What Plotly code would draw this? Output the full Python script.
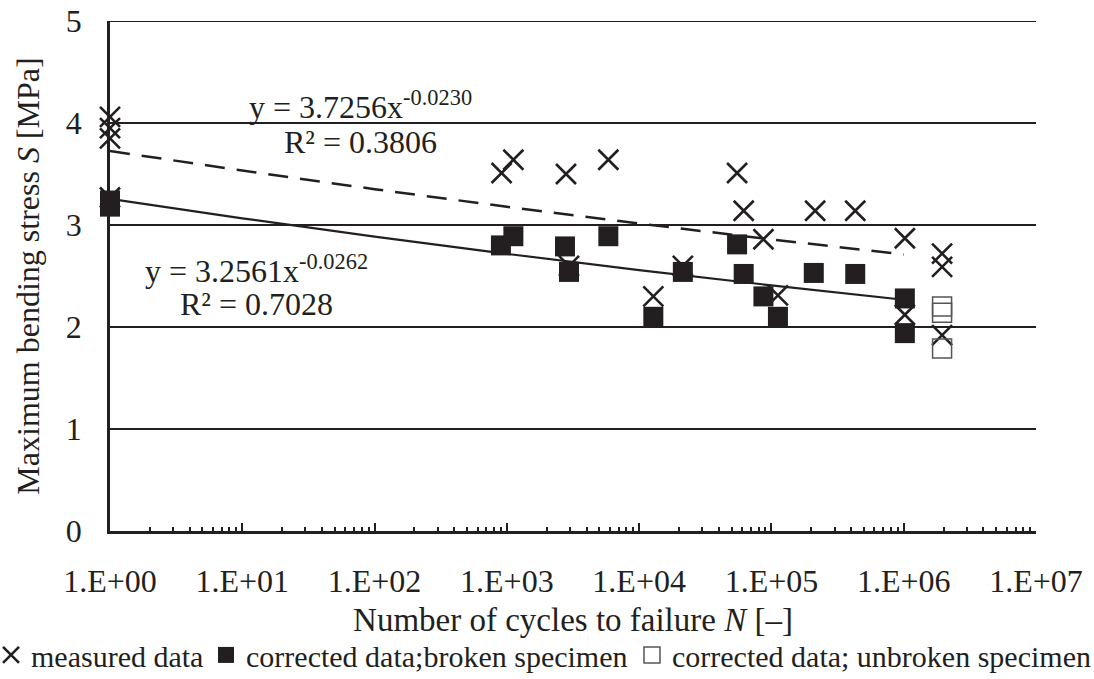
import numpy as np
import plotly.graph_objects as go

# ---------------- data ----------------
meas_N = [1, 1, 1, 1, 912, 1120, 2800, 2950, 5850, 12800, 21400, 55000, 61700,
          87000, 112000, 214000, 430000, 1.02e6, 1.02e6, 1.95e6, 1.95e6, 1.95e6]
meas_S = [4.06, 3.95, 3.85, 3.27, 3.51, 3.64, 3.50, 2.60, 3.64, 2.30, 2.60, 3.51, 3.14,
          2.86, 2.31, 3.14, 3.14, 2.87, 2.12, 2.72, 2.59, 1.92]

brok_N = [1, 1, 902, 1120, 2750, 2950, 5850, 12800, 21400, 55000, 61700, 87000,
          112000, 209000, 430000, 1.02e6, 1.02e6]
brok_S = [3.24, 3.18, 2.80, 2.89, 2.79, 2.54, 2.89, 2.10, 2.54, 2.81, 2.52, 2.30,
          2.10, 2.53, 2.52, 2.28, 1.94]

unbr_N = [1.95e6, 1.95e6, 1.95e6]
unbr_S = [2.20, 2.14, 1.79]

# power-law trendlines shown on the chart: S = a * N^b  (a, b, R²)
trend_meas = (3.7256, -0.0230, 0.3806)
trend_brok = (3.2561, -0.0262, 0.7028)
trend_N = [1, 10, 100, 1e3, 1e4, 1e5, 1e6]

xtick_vals = [1, 10, 100, 1e3, 1e4, 1e5, 1e6, 1e7]
xtick_text = ["1.E+00", "1.E+01", "1.E+02", "1.E+03", "1.E+04", "1.E+05", "1.E+06", "1.E+07"]
ytick_vals = [0, 1, 2, 3, 4, 5]
y_max = 5

FONT = "Liberation Serif, Times New Roman, serif"
INK = "#231f20"

fig = go.Figure()

def trend(params):
    a, b, _ = params
    return [a * n ** b for n in trend_N]

fig.add_trace(go.Scatter(x=trend_N, y=trend(trend_meas), mode="lines",
                         line=dict(color=INK, width=2.5, dash="20px,12px"),
                         showlegend=False, hoverinfo="skip"))
fig.add_trace(go.Scatter(x=trend_N, y=trend(trend_brok), mode="lines",
                         line=dict(color=INK, width=2.2),
                         showlegend=False, hoverinfo="skip"))

fig.add_trace(go.Scatter(x=meas_N, y=meas_S, mode="markers", name="measured data",
                         legend="legend", cliponaxis=False,
                         marker=dict(symbol="x-thin", size=20, color=INK,
                                     line=dict(color=INK, width=2.6))))
fig.add_trace(go.Scatter(x=brok_N, y=brok_S, mode="markers", cliponaxis=False,
                         name="corrected data;broken specimen", legend="legend2",
                         marker=dict(symbol="square", size=20, color=INK,
                                     line=dict(width=0))))
fig.add_trace(go.Scatter(x=unbr_N, y=unbr_S, mode="markers", cliponaxis=False,
                         name="corrected data; unbroken specimen", legend="legend3",
                         marker=dict(symbol="square-open", size=19, color="#555",
                                     line=dict(width=1.5))))

ann_font = dict(family=FONT, size=32, color=INK)
for (a, b, r2), lx, ly1, ly2 in [(trend_meas, 1.89, 4.18, 3.81), (trend_brok, 1.11, 2.57, 2.23)]:
    fig.add_annotation(x=lx, y=ly1, xref="x", yref="y", showarrow=False,
                       text=f"y = {a:.4f}x<sup>{b:.4f}</sup>", font=ann_font,
                       xanchor="center", yanchor="middle")
    fig.add_annotation(x=lx, y=ly2, xref="x", yref="y", showarrow=False,
                       text=f"R² = {r2:.4f}", font=ann_font,
                       xanchor="center", yanchor="middle")

# top gridline at the axis maximum (Excel draws it; plotly drops it at the edge)
fig.add_shape(type="line", xref="paper", yref="y", x0=0, x1=1, y0=y_max, y1=y_max,
              line=dict(color=INK, width=2))

leg_common = dict(orientation="h", xanchor="left", y=-0.243, yanchor="middle",
                  font=dict(family=FONT, size=30, color=INK),
                  itemwidth=30, bgcolor="rgba(0,0,0,0)", borderwidth=0)

fig.update_layout(
    width=1094, height=679,
    margin=dict(l=110, r=58, t=21, b=148, autoexpand=False),
    paper_bgcolor="white", plot_bgcolor="white",
    font=dict(family=FONT, size=32, color=INK),
    showlegend=True,
    legend=dict(x=-0.1285, **leg_common),
    legend2=dict(x=0.1037, **leg_common),
    legend3=dict(x=0.5637, **leg_common),
)

fig.update_xaxes(
    type="log", range=[0, 7],
    tickvals=xtick_vals, ticktext=xtick_text,
    ticks="inside", ticklen=8, tickwidth=2, tickcolor=INK,
    minor=dict(ticks="inside", ticklen=4, tickwidth=2, tickcolor=INK, dtick="D1", showgrid=False),
    showline=True, linecolor=INK, linewidth=2.5,
    showgrid=False, zeroline=False,
    ticklabelstandoff=20,
    tickfont=dict(family=FONT, size=32, color=INK),
    title=dict(text="Number of cycles to failure <i>N</i> [–]",
               font=dict(family=FONT, size=33, color=INK), standoff=10),
    automargin=False,
)
fig.update_yaxes(
    range=[0, y_max], tickvals=ytick_vals,
    showline=True, linecolor=INK, linewidth=2.5,
    showgrid=True, gridcolor=INK, gridwidth=2, zeroline=False,
    ticks="", ticklabelstandoff=19,
    tickfont=dict(family=FONT, size=32, color=INK),
    title=dict(text="Maximum bending stress <i>S</i> [MPa]",
               font=dict(family=FONT, size=32, color=INK), standoff=17),
    automargin=False,
)

fig.write_html("out.html")
